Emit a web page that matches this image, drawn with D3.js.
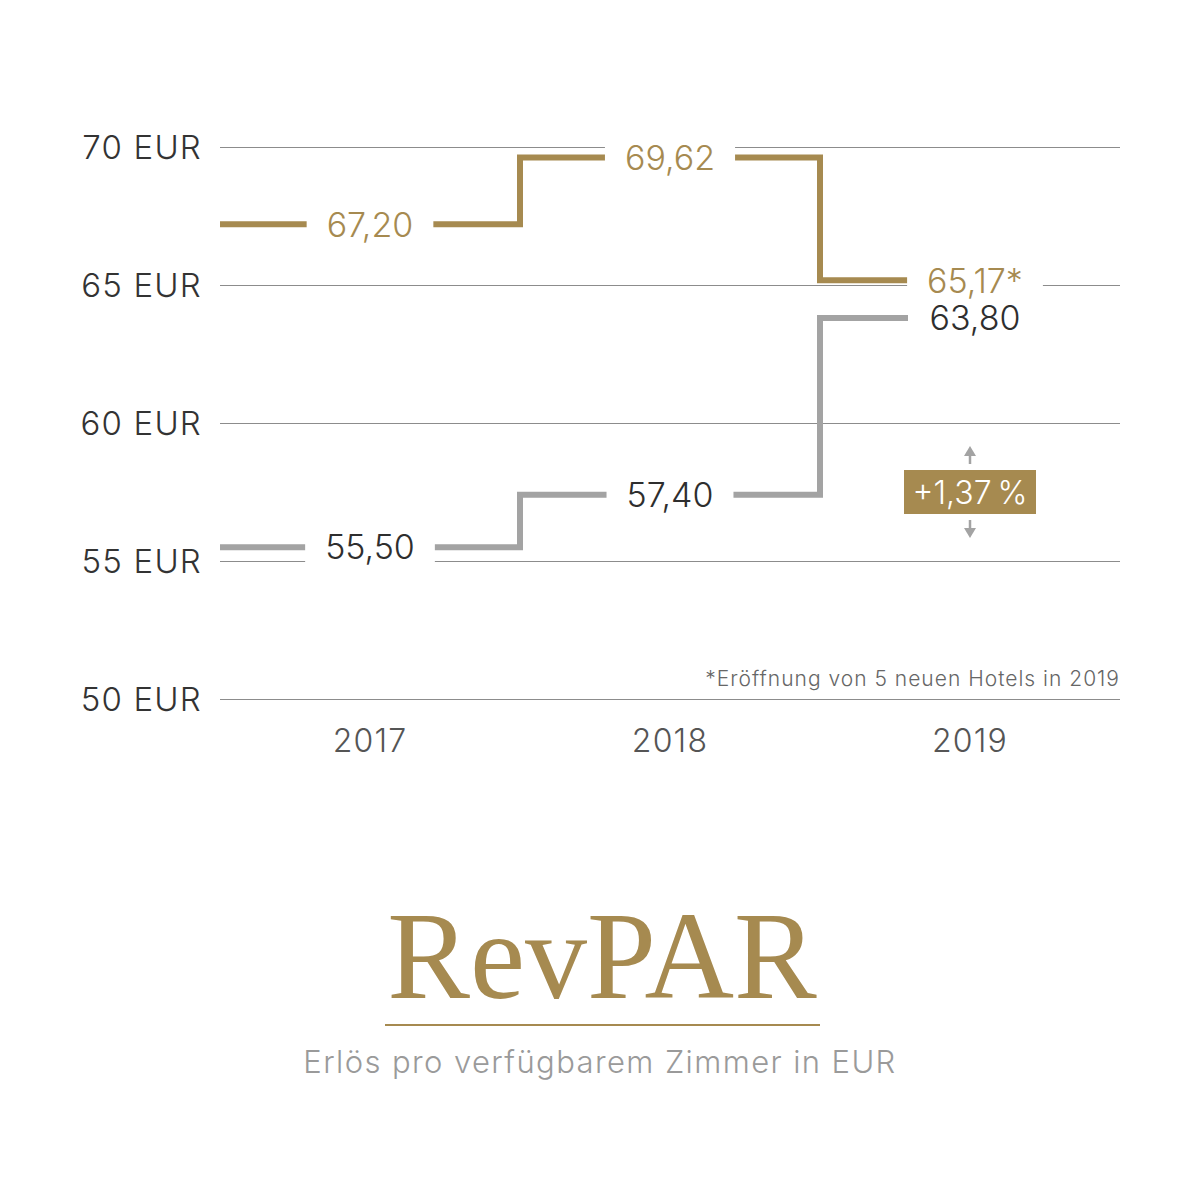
<!DOCTYPE html>
<html lang="de">
<head>
  <meta charset="UTF-8">
  <title>RevPAR</title>
  <style>
    body { margin: 0; background: #ffffff }
    #chart { width: 1200px; height: 1200px; display: block }
    text { font-family: Inter, "Noto Sans", sans-serif; font-weight: 300 }
  </style>
</head>
<body>
  <svg id="chart" width="1200" height="1200"></svg>
  <script src="https://cdn.jsdelivr.net/npm/d3@7"></script>
  <script>
    var years = ["2017", "2018", "2019"];
    var goldValues = [67.20, 69.62, 65.17];
    var greyValues = [55.50, 57.40, 63.80];
    var goldLabels = ["67,20", "69,62", "65,17*"];
    var greyLabels = ["55,50", "57,40", "63,80"];
    var yTicks = [50, 55, 60, 65, 70];
    var change = "+1,37\u2009%";
    var footnote = "*Eröffnung von 5 neuen Hotels in 2019";

    var gold = "#a68a50", grey = "#a3a3a3";

    var svg = d3.select("#chart");

    var x = d3.scaleBand().domain(years).range([220, 1120]);
    var y = d3.scaleLinear().domain([50, 70]).range([699, 147]);

    // grid lines + y labels
    svg.append("g").selectAll("line")
      .data(yTicks)
      .enter().append("line")
      .attr("x1", 220).attr("x2", 1120)
      .attr("y1", d => y(d) + 0.5).attr("y2", d => y(d) + 0.5)
      .attr("stroke", "#8c8c8c").attr("stroke-width", 1);

    svg.append("g").selectAll("text")
      .data(yTicks)
      .enter().append("text")
      .attr("x", 202).attr("y", d => y(d))
      .attr("dy", "0.36em")
      .attr("text-anchor", "end")
      .attr("font-size", 33)
      .attr("letter-spacing", 1.2)
      .attr("fill", "#333")
      .text(d => d + " EUR");

    // years
    svg.append("g").selectAll("text")
      .data(years)
      .enter().append("text")
      .attr("x", d => x(d) + x.bandwidth() / 2)
      .attr("y", 752)
      .attr("text-anchor", "middle")
      .attr("font-size", 32)
      .attr("letter-spacing", 1.2)
      .attr("fill", "#555")
      .text(d => d);

    function stepPath(vals) {
      var p = d3.path();
      vals.forEach(function(v, i) {
        var x0 = x(years[i]);
        var x1 = i < vals.length - 1 ? x0 + x.bandwidth() : x0 + x.bandwidth() / 2 - 62;
        if (i == 0) p.moveTo(x0, y(v));
        else p.lineTo(x0, y(v));
        p.lineTo(x1, y(v));
      });
      return p.toString();
    }

    function series(vals, labels, lineColour, textColour) {
      svg.append("path")
        .attr("d", stepPath(vals))
        .attr("fill", "none")
        .attr("stroke", lineColour)
        .attr("stroke-width", 6)
        .attr("stroke-linejoin", "miter");

      var g = svg.append("g");
      var t = g.selectAll("text")
        .data(vals)
        .enter().append("text")
        .attr("x", (d, i) => x(years[i]) + x.bandwidth() / 2 + (i == 2 ? 5 : 0))
        .attr("y", d => y(d))
        .attr("dy", "0.36em")
        .attr("text-anchor", "middle")
        .attr("font-size", 34)
        .attr("fill", textColour)
        .text((d, i) => labels[i]);

      // white gap behind each label
      t.each(function() {
        var b = this.getBBox();
        g.insert("rect", "text")
          .attr("x", b.x - 20).attr("y", b.y + 4)
          .attr("width", b.width + 40).attr("height", b.height - 8)
          .attr("fill", "#fff");
      });
    }

    series(goldValues, goldLabels, gold, gold);
    series(greyValues, greyLabels, grey, "#2e2e2e");

    // change badge between 55 and 60
    var bx = x("2019") + x.bandwidth() / 2;
    var by = (y(55) + y(60)) / 2;
    svg.append("rect")
      .attr("x", bx - 66).attr("y", by - 22)
      .attr("width", 132).attr("height", 44)
      .attr("fill", gold);
    svg.append("text")
      .attr("x", bx).attr("y", by)
      .attr("dy", "0.36em")
      .attr("text-anchor", "middle")
      .attr("font-size", 32)
      .attr("fill", "#fff")
      .text(change);

    var arrow = svg.append("g").attr("fill", "#a3a3a3").attr("stroke", "#a3a3a3");
    arrow.append("line").attr("x1", bx).attr("x2", bx).attr("y1", by - 28).attr("y2", by - 38).attr("stroke-width", 2.5);
    arrow.append("path").attr("d", `M${bx - 6},${by - 36}L${bx + 6},${by - 36}L${bx},${by - 46}Z`).attr("stroke", "none");
    arrow.append("line").attr("x1", bx).attr("x2", bx).attr("y1", by + 28).attr("y2", by + 38).attr("stroke-width", 2.5);
    arrow.append("path").attr("d", `M${bx - 6},${by + 36}L${bx + 6},${by + 36}L${bx},${by + 46}Z`).attr("stroke", "none");

    // footnote
    svg.append("text")
      .attr("x", 1120).attr("y", 686)
      .attr("text-anchor", "end")
      .attr("font-size", 21)
      .attr("letter-spacing", 1)
      .attr("fill", "#666")
      .text(footnote);

    // title block
    svg.append("text")
      .attr("x", 602).attr("y", 998)
      .attr("text-anchor", "middle")
      .style("font-family", "'Liberation Serif', serif")
      .style("font-weight", 400)
      .attr("font-size", 124)
      .attr("fill", gold)
      .text("RevPAR");

    svg.append("line")
      .attr("x1", 385).attr("x2", 820)
      .attr("y1", 1025).attr("y2", 1025)
      .attr("stroke", gold).attr("stroke-width", 2);

    svg.append("text")
      .attr("x", 600).attr("y", 1073)
      .attr("text-anchor", "middle")
      .attr("font-size", 31)
      .attr("letter-spacing", 1.4)
      .attr("fill", "#9a9a9a")
      .text("Erlös pro verfügbarem Zimmer in EUR");
  </script>
</body>
</html>
